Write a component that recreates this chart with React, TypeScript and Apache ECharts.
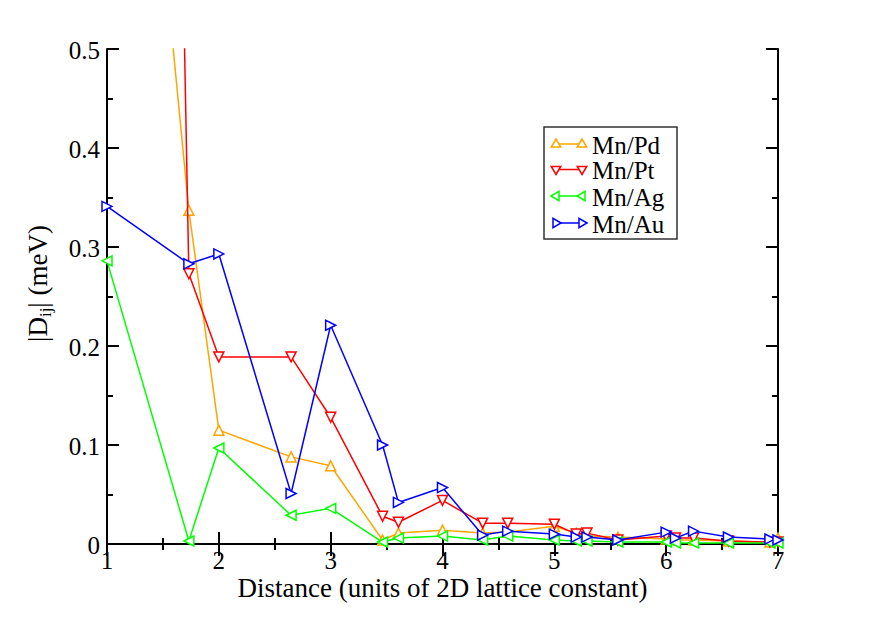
import React, { useEffect, useRef } from "react";
import * as echarts from "echarts";

const distances = [1, 1.732, 2, 2.646, 3, 3.464, 3.606, 4, 4.359, 4.583, 5, 5.196, 5.292, 5.568, 6, 6.083, 6.245, 6.557, 6.928, 7];
const mnPd = [1.19, 0.337, 0.115, 0.088, 0.079, 0.004, 0.011, 0.014, 0.011, 0.012, 0.018, 0.011, 0.008, 0.007, 0.005, 0.004, 0.004, 0.003, 0.002, 0.006];
const mnPt = [4.6, 0.273, 0.189, 0.189, 0.128, 0.028, 0.022, 0.044, 0.021, 0.021, 0.020, 0.010, 0.011, 0.004, 0.008, 0.006, 0.006, 0.003, 0.002, 0.002];
const mnAg = [0.286, 0.003, 0.097, 0.029, 0.036, 0.002, 0.006, 0.008, 0.004, 0.008, 0.004, 0.003, 0.003, 0.002, 0.002, 0.001, 0.001, 0.001, 0.001, 0.001];
const mnAu = [0.341, 0.283, 0.293, 0.051, 0.221, 0.100, 0.042, 0.057, 0.009, 0.013, 0.010, 0.007, 0.007, 0.004, 0.012, 0.006, 0.013, 0.007, 0.005, 0.004];

const seriesNames = ["Mn/Pd", "Mn/Pt", "Mn/Ag", "Mn/Au"];
const seriesColors = ["#ffa500", "#ff0000", "#00ff00", "#0000ff"];
const seriesRotate = [0, 180, 90, -90];
const seriesValues = [mnPd, mnPt, mnAg, mnAu];

const xTicks = [1, 2, 3, 4, 5, 6, 7];
const yTicks = [0, 0.1, 0.2, 0.3, 0.4, 0.5];
const xTitle = "Distance (units of 2D lattice constant)";
const yTitleParts = ["|D", "ij", "| (meV)"];

const FONT = "Liberation Serif";

function triPoints(cx: number, cy: number, r: number, dir: number): number[][] {
  const base = [
    [0, -r],
    [-r * 0.95, r * 0.6],
    [r * 0.95, r * 0.6],
  ];
  const a = (-dir * Math.PI) / 180;
  return base.map(([x, y]) => [cx + x * Math.cos(a) - y * Math.sin(a), cy + x * Math.sin(a) + y * Math.cos(a)]);
}

function measure(text: string, size: number): number {
  const c = document.createElement("canvas").getContext("2d");
  if (!c) return text.length * size * 0.5;
  c.font = `${size}px "${FONT}"`;
  return c.measureText(text).width;
}

export default function App() {
  const ref = useRef<HTMLDivElement>(null);
  useEffect(() => {
    if (!ref.current) return;
    const chart = echarts.init(ref.current, undefined, { renderer: "svg" });

    const axisCommon = {
      axisLine: { show: true, lineStyle: { color: "#000", width: 2 } },
      axisTick: { show: true, inside: true, length: 12, lineStyle: { color: "#000", width: 2 } },
      minorTick: { show: true, splitNumber: 2, length: 6, lineStyle: { color: "#000", width: 2 } },
      splitLine: { show: false },
      axisLabel: { show: false },
    };

    chart.setOption({
      animation: false,
      backgroundColor: "#fff",
      textStyle: { fontFamily: FONT },
      grid: { left: 107, right: 103, top: 49, bottom: 79, containLabel: false },
      xAxis: [
        {
          type: "value",
          min: 1,
          max: 7,
          interval: 1,
          name: xTitle,
          nameLocation: "middle",
          nameGap: 30,
          nameTextStyle: { fontFamily: FONT, fontSize: 27, color: "#000" },
          ...axisCommon,
        },
        { type: "value", position: "top", min: 1, max: 7, interval: 1, ...axisCommon },
      ],
      yAxis: [
        { type: "value", min: 0, max: 0.5, interval: 0.1, ...axisCommon },
        { type: "value", position: "right", min: 0, max: 0.5, interval: 0.1, ...axisCommon },
      ],
      series: seriesNames.map((name, i) => ({
        name,
        type: "line",
        data: distances.map((d, j) => [d, seriesValues[i][j]]),
        symbol: "triangle",
        symbolSize: 10,
        symbolRotate: seriesRotate[i],
        showAllSymbol: true,
        clip: true,
        lineStyle: { color: seriesColors[i], width: 1.5 },
        itemStyle: { color: "#fff", borderColor: seriesColors[i], borderWidth: 1.5 },
        z: 2 + i,
      })),
    });

    const graphics: any[] = [];

    const toPx = (x: number, y: number) => chart.convertToPixel({ xAxisIndex: 0, yAxisIndex: 0 }, [x, y]) as number[];
    xTicks.forEach((v) => {
      const [px, py] = toPx(v, 0);
      graphics.push({
        type: "text",
        x: px,
        y: py + 16.5,
        style: { text: String(v), fontFamily: FONT, fontSize: 25, fill: "#000", align: "center", verticalAlign: "middle" },
        z: 102,
      });
    });
    yTicks.forEach((v) => {
      const [px, py] = toPx(1, v);
      graphics.push({
        type: "text",
        x: px - 7,
        y: py + 1,
        style: { text: String(v), fontFamily: FONT, fontSize: 25, fill: "#000", align: "right", verticalAlign: "middle" },
        z: 102,
      });
    });

    const w0 = measure(yTitleParts[0], 27);
    const w1 = measure(yTitleParts[1], 17);
    const w2 = measure(yTitleParts[2], 27);
    const total = w0 + w1 + w2;
    const start = -total / 2;
    const [, yTop] = toPx(1, 0.5);
    const [, yBot] = toPx(1, 0);
    graphics.push({
      type: "group",
      x: 38,
      y: (yTop + yBot) / 2 - 13,
      rotation: Math.PI / 2,
      children: [
        {
          type: "text",
          x: start,
          y: 0,
          style: { text: yTitleParts[0], fontFamily: FONT, fontSize: 27, fill: "#000", align: "left", verticalAlign: "middle" },
        },
        {
          type: "text",
          x: start + w0,
          y: 7,
          style: { text: yTitleParts[1], fontFamily: FONT, fontSize: 17, fill: "#000", align: "left", verticalAlign: "middle" },
        },
        {
          type: "text",
          x: start + w0 + w1,
          y: 0,
          style: { text: yTitleParts[2], fontFamily: FONT, fontSize: 27, fill: "#000", align: "left", verticalAlign: "middle" },
        },
      ],
      z: 102,
    });

    graphics.push({
      type: "rect",
      shape: { x: 544, y: 127, width: 133, height: 112 },
      style: { fill: "#fff", stroke: "#333", lineWidth: 1.5 },
      z: 100,
    });
    const rowY = [144, 169.5, 196, 223];
    seriesNames.forEach((name, i) => {
      const y = rowY[i];
      graphics.push({
        type: "line",
        shape: { x1: 554, y1: y, x2: 584, y2: y },
        style: { stroke: seriesColors[i], lineWidth: 1.5 },
        z: 101,
      });
      [556, 582].forEach((cx) => {
        graphics.push({
          type: "polygon",
          shape: { points: triPoints(cx, y, 5, seriesRotate[i]) },
          style: { fill: "#fff", stroke: seriesColors[i], lineWidth: 1.5 },
          z: 102,
        });
      });
      graphics.push({
        type: "text",
        x: 592,
        y: y + 1,
        style: { text: name, fontFamily: FONT, fontSize: 25, fill: "#000", verticalAlign: "middle", align: "left" },
        z: 102,
      });
    });

    chart.setOption({ graphic: graphics });

    return () => chart.dispose();
  }, []);

  return <div ref={ref} style={{ position: "fixed", left: 0, top: 0, width: 881, height: 623 }} />;
}
